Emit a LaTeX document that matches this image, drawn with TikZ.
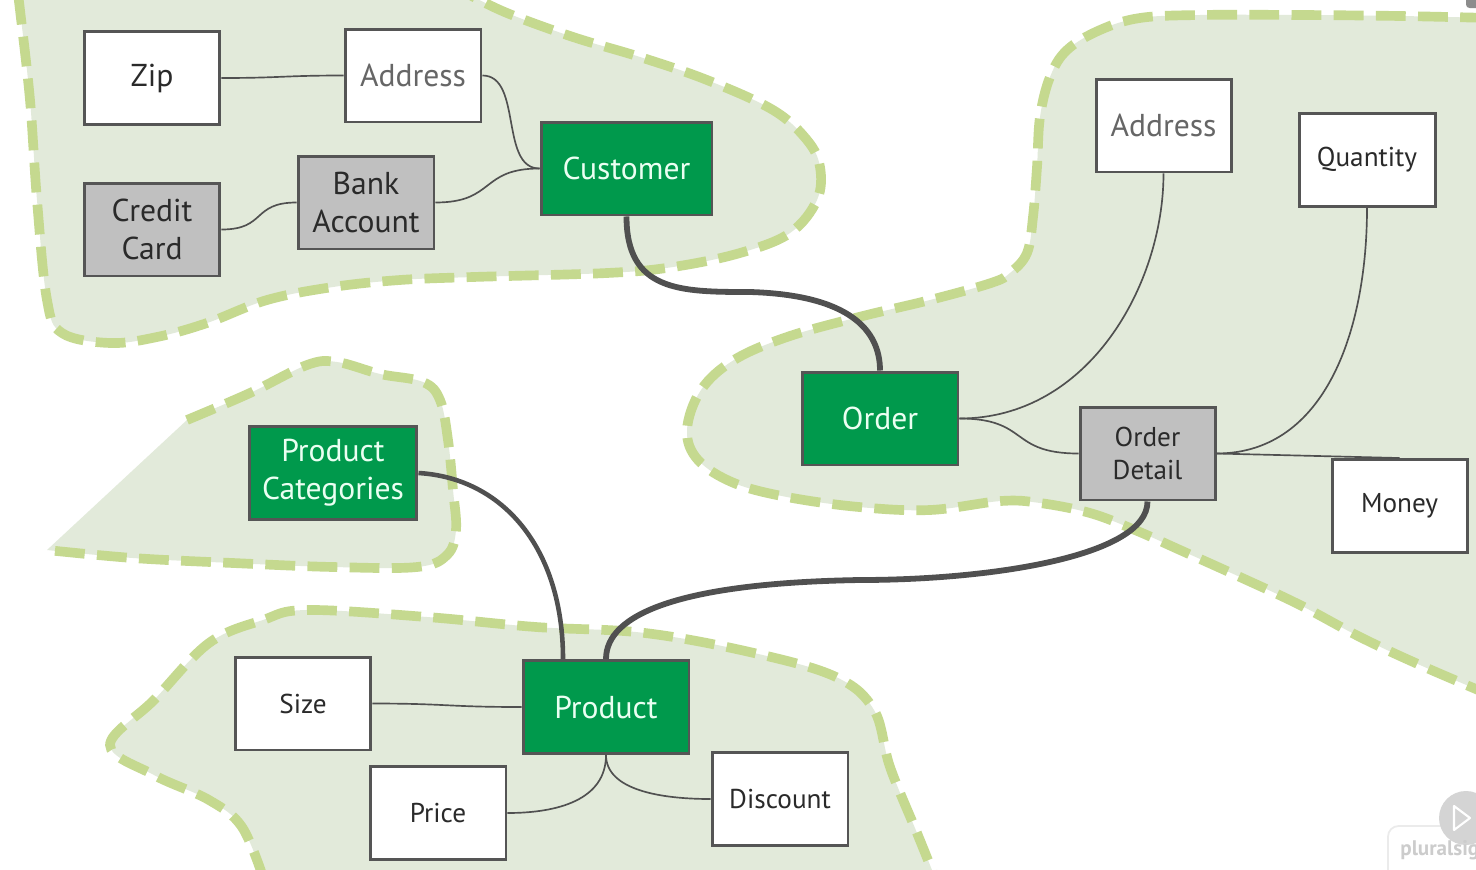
\documentclass[tikz,border=0pt]{standalone}
\usepackage{fontspec}
\setmainfont{PT Sans}
\definecolor{boxline}{HTML}{555555}
\definecolor{grayfill}{HTML}{C0C0C0}
\definecolor{entgreen}{HTML}{00994C}
\definecolor{enttext}{HTML}{EAFFF2}
\definecolor{conn}{HTML}{505050}
\definecolor{blobc}{RGB}{226,234,218}
\definecolor{dashc}{RGB}{197,217,143}
\definecolor{darktext}{HTML}{2A2A2A}
\definecolor{graytext}{HTML}{666666}
\begin{document}
\begin{tikzpicture}[x=0.02cm,y=-0.02cm,
  box/.style={draw=boxline,line width=1.7pt,minimum width=2.72cm,minimum height=1.86cm,inner sep=0pt,align=center,text=darktext},
  big/.style={font=\fontsize{18}{21.5}\selectfont},
  small/.style={font=\fontsize{15.5}{18.5}\selectfont},
  wbox/.style={box,fill=white},
  gbox/.style={box,fill=grayfill},
  ent/.style={box,fill=entgreen,text=enttext},
  rel/.style={draw=conn,line width=0.95pt},
  heavy/.style={draw=conn,line width=3.3pt},
  dashb/.style={draw=dashc,line width=5.5pt,dash pattern=on 17pt off 7pt},
  blob/.style={fill=blobc}
]
\clip (0,0) rectangle (1476,869);
\fill[white] (0,0) rectangle (1476,869);
% ---- blob 1 (customer area)
\fill[blob] plot[smooth,tension=0.6] coordinates {(18,-5) (20,10) (30,100) (37,200) (47,300) (62,333) (110,343) (157,337) (207,323) (267,300) (333,287) (400,280) (473,277) (607,273) (673,267) (740,253) (790,233) (817,200) (820,167) (807,140) (773,110) (707,80) (640,57) (573,37) (507,13) (470,-5)} -- cycle;
\draw[dashb] plot[smooth,tension=0.6] coordinates {(18,-5) (20,10) (30,100) (37,200) (47,300) (62,333) (110,343) (157,337) (207,323) (267,300) (333,287) (400,280) (473,277) (607,273) (673,267) (740,253) (790,233) (817,200) (820,167) (807,140) (773,110) (707,80) (640,57) (573,37) (507,13) (470,-5)};
% ---- blob 2 (order area)
\fill[blob] plot[smooth,tension=0.6] coordinates {(1490,18) (1400,16) (1300,15) (1200,15) (1140,18) (1100,30) (1067,50) (1050,77) (1040,117) (1037,167) (1033,217) (1027,253) (1010,273) (991,283) (930,300) (859,317) (787,337) (734,360) (701,390) (687,430) (698,460) (734,483) (787,497) (859,507) (930,510) (1001,501) (1040,503) (1090,513) (1135,530) (1180,550) (1240,577) (1300,605) (1360,637) (1420,665) (1490,695)} -- cycle;
\draw[dashb] plot[smooth,tension=0.6] coordinates {(1490,18) (1400,16) (1300,15) (1200,15) (1140,18) (1100,30) (1067,50) (1050,77) (1040,117) (1037,167) (1033,217) (1027,253) (1010,273) (991,283) (930,300) (859,317) (787,337) (734,360) (701,390) (687,430) (698,460) (734,483) (787,497) (859,507) (930,510) (1001,501) (1040,503) (1090,513) (1135,530) (1180,550) (1240,577) (1300,605) (1360,637) (1420,665) (1490,695)};
% ---- blob 3 (product categories)
\fill[blob] plot[smooth,tension=0.6] coordinates {(187,420) (250,393) (307,365) (337,362) (380,374) (423,382) (440,400) (448,440) (453,490) (456,530) (447,555) (417,567) (333,567) (233,563) (133,558) (47,550)} -- cycle;
\draw[dashb] plot[smooth,tension=0.6] coordinates {(187,420) (250,393) (307,365) (337,362) (380,374) (423,382) (440,400) (448,440) (453,490) (456,530) (447,555) (417,567) (333,567) (233,563) (133,558) (47,550)};
% ---- blob 4 (product)
\fill[blob] plot[smooth,tension=0.6] coordinates {(264,880) (242,827) (209,800) (154,775) (110,745) (154,700) (209,643) (263,620) (307,610) (427,617) (536,627) (645,633) (754,653) (836,677) (874,710) (890,767) (917,833) (936,880)} -- cycle;
\draw[dashb] plot[smooth,tension=0.6] coordinates {(264,880) (242,827) (209,800) (154,775) (110,745) (154,700) (209,643) (263,620) (307,610) (427,617) (536,627) (645,633) (754,653) (836,677) (874,710) (890,767) (917,833) (936,880)};
% ---- nodes
\node[wbox,big] (zip) at (152,78) {Zip};
\node[wbox,big,text=graytext] (addrL) at (413,75.5) {Address};
\node[gbox,big] (cc) at (152,229.5) {Credit\\Card};
\node[gbox,big] (bank) at (366,202.5) {Bank\\Account};
\node[ent,big,minimum width=3.42cm] (cust) at (626.5,168.5) {Customer};
\node[wbox,big,text=graytext,minimum width=2.7cm] (addrR) at (1163.5,125.5) {Address};
\node[wbox,small] (qty) at (1367,160) {Quantity};
\node[ent,big,minimum width=3.12cm] (order) at (880,418.5) {Order};
\node[gbox,minimum width=2.7cm,font=\fontsize{15.5}{18.7}\selectfont] (od) at (1147.5,453.5) {Order\\Detail};
\node[wbox,small,minimum width=2.7cm] (money) at (1399.5,506) {Money};
\node[ent,big,minimum width=3.36cm] (pc) at (333,473) {Product\\Categories};
\node[ent,big,minimum width=3.32cm] (prod) at (606,707) {Product};
\node[wbox,small] (size) at (303,703.5) {Size};
\node[wbox,small] (price) at (438,813) {Price};
\node[wbox,small] (disc) at (780,799) {Discount};
% ---- connectors
\draw[rel] (zip.east) .. controls +(60,0) and +(-60,0) .. (addrL.west);
\draw[rel] (addrL.east) .. controls +(40,0) and +(-40,0) .. (cust.west);
\draw[rel] (cc.east) .. controls +(45,0) and +(-45,0) .. (bank.west);
\draw[rel] (bank.east) .. controls +(60,0) and +(-60,0) .. (cust.west);
\draw[heavy] (cust.south) .. controls +(0,75) and +(-70,0) .. (750,292) .. controls +(100,3) and +(0,-40) .. (order.north);
\draw[rel] (order.east) .. controls +(130,0) and +(0,110) .. (addrR.south);
\draw[rel] (order.east) .. controls +(70,0) and +(-70,0) .. (od.west);
\draw[rel] (od.east) .. controls +(110,0) and +(0,120) .. (qty.south);
\draw[rel] (od.east) -- (money.north);
\draw[heavy] (od.south) .. controls +(0,55) and +(130,0) .. (860,580) .. controls +(-180,3) and +(0,-45) .. (prod.north);
\draw[heavy,line width=2.6pt] (pc.east) .. controls +(85,5) and +(0,-110) .. ([xshift=-0.86cm]prod.north);
\draw[rel] (size.east) .. controls +(75,0) and +(-75,0) .. (prod.west);
\draw[rel] (prod.south) .. controls +(0,45) and +(50,0) .. (price.east);
\draw[rel] (prod.south) .. controls +(0,35) and +(-50,0) .. (disc.west);
% ---- watermark
\draw[black!8,line width=1pt,rounded corners=6pt] (1388,880) -- (1388,826) -- (1490,826);
\fill[black!17] (1466,818) circle (27);
\draw[white,line width=1.2pt,line join=round] (1454,806) -- (1470,818) -- (1454,830) -- cycle;
\node[anchor=west,text=black!20,font=\fontsize{12}{12}\selectfont\bfseries,inner sep=0pt] (wm) at (1400,850) {pluralsight};
\fill[black!45,rounded corners=2pt] (1466,-6) rectangle (1484,8);
\end{tikzpicture}
\end{document}
